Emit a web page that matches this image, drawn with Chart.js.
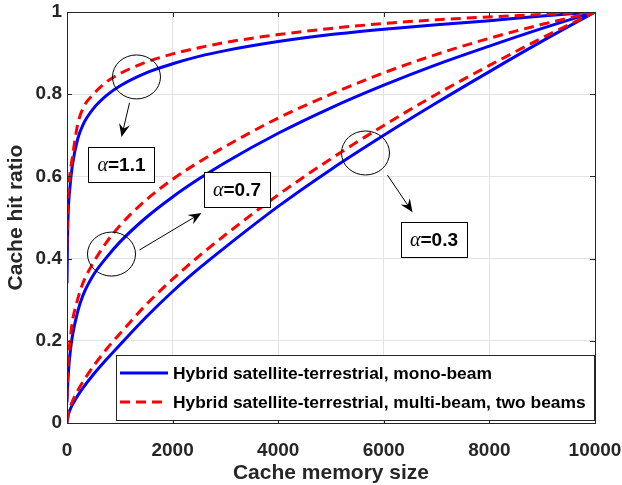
<!DOCTYPE html>
<html>
<head>
<meta charset="utf-8">
<script src="https://cdn.jsdelivr.net/npm/chart.js@4/dist/chart.umd.min.js"></script>
<style>
html, body { margin: 0; padding: 0; background: #fff; }
#wrap { width: 622px; height: 485px; }
</style>
</head>
<body>
<div id="wrap"><canvas id="hit-chart" width="622" height="485"></canvas></div>
<script>
// Cache memory sizes (x) shared by all curves
const cacheSizes = [0, 10, 25, 50, 100, 200, 300, 500, 750, 1000, 1500, 2000, 2500, 3000, 4000, 5000, 6000, 7000, 8000, 9000, 10000];

// Cache hit ratio, mono-beam (blue) and two-beam (red) for each alpha
const monoA11  = [0.34, 0.45, 0.52, 0.565, 0.625, 0.69, 0.725, 0.765, 0.797, 0.82, 0.852, 0.874, 0.892, 0.906, 0.928, 0.945, 0.958, 0.969, 0.979, 0.99, 1];
const multiA11 = [0.43, 0.50, 0.56, 0.60, 0.645, 0.725, 0.765, 0.80, 0.83, 0.85, 0.878, 0.898, 0.913, 0.926, 0.945, 0.96, 0.972, 0.981, 0.988, 0.994, 1];
const monoA07  = [0.05, 0.085, 0.12, 0.16, 0.21, 0.27, 0.31, 0.36, 0.403, 0.44, 0.50, 0.55, 0.594, 0.634, 0.705, 0.767, 0.822, 0.872, 0.917, 0.96, 1];
const multiA07 = [0.06, 0.10, 0.15, 0.19, 0.245, 0.30, 0.34, 0.39, 0.44, 0.48, 0.543, 0.593, 0.635, 0.673, 0.742, 0.80, 0.852, 0.897, 0.936, 0.97, 1];
const monoA03  = [0, 0.01, 0.02, 0.03, 0.044, 0.066, 0.085, 0.118, 0.155, 0.19, 0.258, 0.32, 0.376, 0.428, 0.527, 0.617, 0.70, 0.779, 0.855, 0.929, 1];
const multiA03 = [0.005, 0.012, 0.022, 0.035, 0.052, 0.078, 0.10, 0.138, 0.18, 0.217, 0.288, 0.35, 0.406, 0.458, 0.555, 0.643, 0.724, 0.80, 0.87, 0.937, 1];

// Tick labels
const xTicks = [0, 2000, 4000, 6000, 8000, 10000];
const yTicks = [0, 0.2, 0.4, 0.6, 0.8, 1];

const legendLabels = ['Hybrid satellite-terrestrial, mono-beam', 'Hybrid satellite-terrestrial, multi-beam, two beams'];
const alphaLabels = ['1.1', '0.7', '0.3'];

const SANS = '"Liberation Sans", Arial, sans-serif';
const SERIF = '"Liberation Serif", "DejaVu Serif", serif';
const AXIS_COLOR = '#262626';
const BLUE = '#0000ff';
const RED = '#ff0000';
const DASH = [10, 6];

// Annotation placement (data coords): ellipse, arrow start/end, label box centre
const annotations = [
    { ell: [1316, 0.842], from: [1184, 0.779], to: [1032, 0.696], box: [1032, 0.628] },
    { ell: [843, 0.411],  from: [1373, 0.421], to: [2547, 0.511], box: [3220, 0.568] },
    { ell: [5653, 0.657], from: [6070, 0.603], to: [6544, 0.513], box: [6951, 0.446] }
];

function toPoints(ys) {
    return cacheSizes.map((x, i) => ({ x: x, y: ys[i] }));
}

function lineSet(label, ys, isMulti) {
    return {
        label: label,
        data: toPoints(ys),
        borderColor: isMulti ? RED : BLUE,
        backgroundColor: isMulti ? RED : BLUE,
        borderWidth: 3,
        borderDash: isMulti ? DASH : [],
        pointRadius: 0,
        fill: false,
        cubicInterpolationMode: 'monotone',
        order: isMulti ? 1 : 2
    };
}

function drawArrow(ctx, x1, y1, x2, y2) {
    const ang = Math.atan2(y2 - y1, x2 - x1);
    const len = 13, half = 5.5;
    ctx.beginPath();
    ctx.moveTo(x1, y1);
    ctx.lineTo(x2 - Math.cos(ang) * 6, y2 - Math.sin(ang) * 6);
    ctx.stroke();
    const bx = x2 - Math.cos(ang) * len, by = y2 - Math.sin(ang) * len;
    const nx = -Math.sin(ang), ny = Math.cos(ang);
    const mx = x2 - Math.cos(ang) * len * 0.65, my = y2 - Math.sin(ang) * len * 0.65;
    ctx.beginPath();
    ctx.moveTo(x2, y2);
    ctx.lineTo(bx + nx * half, by + ny * half);
    ctx.lineTo(mx, my);
    ctx.lineTo(bx - nx * half, by - ny * half);
    ctx.closePath();
    ctx.fill();
}

// no extra room for overhanging tick labels: keep the plot box fixed
function noPad(s) {
    s.paddingLeft = 0;
    s.paddingRight = 0;
    s.paddingTop = 0;
    s.paddingBottom = 0;
}

const matlabFrame = {
    id: 'matlabFrame',
    afterDatasetsDraw(chart) {
        const ctx = chart.ctx;
        const area = chart.chartArea;
        const xs = chart.scales.x, ys = chart.scales.y;
        ctx.save();

        // axes box and inward ticks
        ctx.strokeStyle = AXIS_COLOR;
        ctx.lineWidth = 1;
        ctx.strokeRect(area.left + 0.5, area.top + 0.5, area.right - area.left, area.bottom - area.top);
        ctx.beginPath();
        xTicks.forEach(v => {
            const px = Math.round(xs.getPixelForValue(v)) + 0.5;
            ctx.moveTo(px, area.bottom); ctx.lineTo(px, area.bottom - 5);
            ctx.moveTo(px, area.top); ctx.lineTo(px, area.top + 5);
        });
        yTicks.forEach(v => {
            const py = Math.round(ys.getPixelForValue(v)) + 0.5;
            ctx.moveTo(area.left, py); ctx.lineTo(area.left + 5, py);
            ctx.moveTo(area.right, py); ctx.lineTo(area.right - 5, py);
        });
        ctx.stroke();

        // ellipses, arrows, alpha boxes
        ctx.strokeStyle = '#000';
        ctx.fillStyle = '#000';
        annotations.forEach((a, i) => {
            ctx.lineWidth = 1;
            ctx.beginPath();
            ctx.ellipse(xs.getPixelForValue(a.ell[0]), ys.getPixelForValue(a.ell[1]), 24, 22, 0, 0, Math.PI * 2);
            ctx.stroke();
            drawArrow(ctx, xs.getPixelForValue(a.from[0]), ys.getPixelForValue(a.from[1]),
                xs.getPixelForValue(a.to[0]), ys.getPixelForValue(a.to[1]));

            const cx = xs.getPixelForValue(a.box[0]), cy = ys.getPixelForValue(a.box[1]);
            const w = 66, h = 35;
            ctx.fillStyle = '#fff';
            ctx.fillRect(cx - w / 2, cy - h / 2, w, h);
            ctx.strokeRect(Math.round(cx - w / 2) + 0.5, Math.round(cy - h / 2) + 0.5, w, h);
            ctx.fillStyle = '#000';
            ctx.font = 'italic 20px ' + SERIF;
            const aw = ctx.measureText('\u03b1').width;
            ctx.font = 'bold 19px ' + SANS;
            const rest = '=' + alphaLabels[i];
            const rw = ctx.measureText(rest).width;
            const sx = cx - (aw + rw) / 2;
            ctx.textBaseline = 'middle';
            ctx.font = 'italic 20px ' + SERIF;
            ctx.fillText('\u03b1', sx, cy + 1);
            ctx.font = 'bold 19px ' + SANS;
            ctx.fillText(rest, sx + aw, cy + 1);
        });

        // legend box
        const lx = 116, ly = 355, lw = 478, lh = 65;
        ctx.fillStyle = '#fff';
        ctx.fillRect(lx, ly, lw, lh);
        ctx.strokeStyle = AXIS_COLOR;
        ctx.lineWidth = 1;
        ctx.strokeRect(lx + 0.5, ly + 0.5, lw, lh);
        const rows = [ly + 18, ly + 47];
        ctx.lineWidth = 3;
        [BLUE, RED].forEach((c, i) => {
            ctx.strokeStyle = c;
            ctx.setLineDash(i ? DASH : []);
            ctx.beginPath();
            ctx.moveTo(lx + 4, rows[i]);
            ctx.lineTo(lx + 52, rows[i]);
            ctx.stroke();
        });
        ctx.setLineDash([]);
        ctx.fillStyle = '#000';
        ctx.font = 'bold 17.4px ' + SANS;
        ctx.textBaseline = 'middle';
        legendLabels.forEach((t, i) => ctx.fillText(t, lx + 57, rows[i] + 1));
        ctx.restore();
    }
};

const ctx = document.getElementById('hit-chart').getContext('2d');
const hitChart = new Chart(ctx, {
    type: 'line',
    data: {
        datasets: [
            lineSet(legendLabels[0] + ' a=1.1', monoA11, false),
            lineSet(legendLabels[1] + ' a=1.1', multiA11, true),
            lineSet(legendLabels[0] + ' a=0.7', monoA07, false),
            lineSet(legendLabels[1] + ' a=0.7', multiA07, true),
            lineSet(legendLabels[0] + ' a=0.3', monoA03, false),
            lineSet(legendLabels[1] + ' a=0.3', multiA03, true)
        ]
    },
    options: {
        responsive: false,
        devicePixelRatio: 1,
        animation: false,
        layout: { padding: { top: 12, right: 27, left: 0, bottom: 0 } },
        plugins: { legend: { display: false }, tooltip: { enabled: false } },
        scales: {
            x: {
                type: 'linear',
                min: 0,
                max: 10000,
                afterBuildTicks: s => { s.ticks = xTicks.map(v => ({ value: v })); },
                afterFit: s => { s.height = 62; noPad(s); },
                ticks: {
                    callback: v => String(v),
                    color: AXIS_COLOR,
                    font: { family: SANS, size: 19, weight: 'bold' },
                    padding: 16,
                    maxRotation: 0
                },
                grid: { color: '#e3e3e3', drawTicks: false },
                border: { display: false },
                title: {
                    display: true,
                    text: 'Cache memory size',
                    color: AXIS_COLOR,
                    font: { family: SANS, size: 21, weight: 'bold' },
                    padding: { top: 0, bottom: -1 }
                }
            },
            y: {
                type: 'linear',
                min: 0,
                max: 1,
                afterBuildTicks: s => { s.ticks = yTicks.map(v => ({ value: v })); },
                afterFit: s => { s.width = 67; noPad(s); },
                ticks: {
                    callback: v => String(v),
                    color: AXIS_COLOR,
                    font: { family: SANS, size: 19, weight: 'bold' },
                    padding: 5
                },
                grid: { color: '#e3e3e3', drawTicks: false },
                border: { display: false },
                title: {
                    display: true,
                    text: 'Cache hit ratio',
                    color: AXIS_COLOR,
                    font: { family: SANS, size: 21, weight: 'bold' },
                    padding: { top: 4, bottom: 0 }
                }
            }
        }
    },
    plugins: [matlabFrame]
});
</script>
</body>
</html>
